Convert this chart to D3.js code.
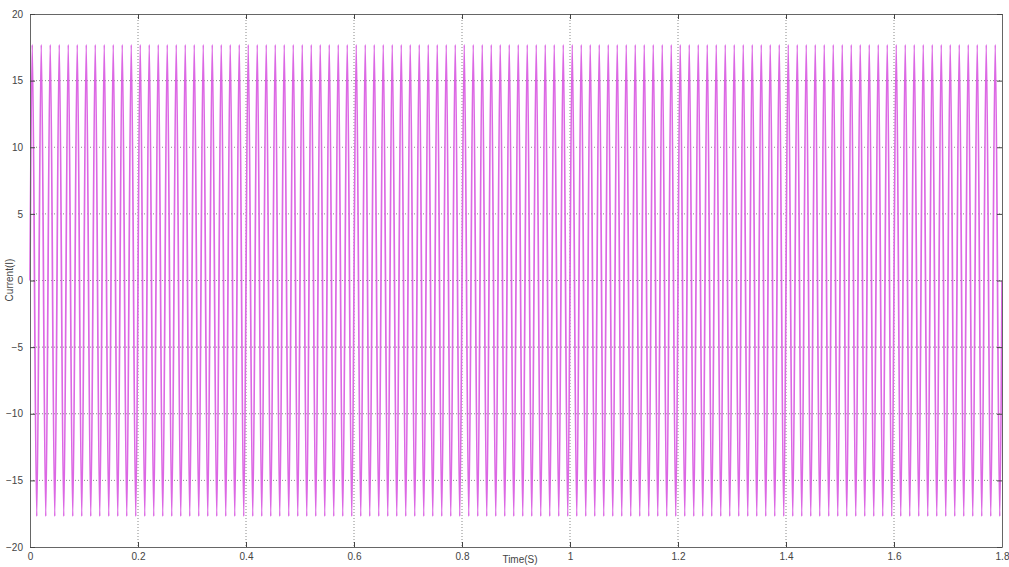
<!DOCTYPE html>
<html><head><meta charset="utf-8">
<script src="https://cdn.jsdelivr.net/npm/d3@7"></script>
<style>body{margin:0;background:#fff}svg{display:block}text{font-family:"Liberation Sans",Arial,sans-serif}</style>
</head><body>
<script>
// tick labels
const xTicks = [0,0.2,0.4,0.6,0.8,1,1.2,1.4,1.6,1.8];
const yTicks = [-20,-15,-10,-5,0,5,10,15,20];
// waveform: 60 Hz current, extrema (peak / trough) values
const halfPeriod = 1/120;
const startValue = 0, endValue = 0;
const extrema = [
17.7,-17.7,17.7,-17.7,17.7,-17.7,17.7,-17.7,17.7,-17.7,17.7,-17.7,17.7,-17.7,17.7,-17.7,17.7,-17.7,17.7,-17.7,17.7,-17.7,17.7,-17.7,
17.7,-17.7,17.7,-17.7,17.7,-17.7,17.7,-17.7,17.7,-17.7,17.7,-17.7,17.7,-17.7,17.7,-17.7,17.7,-17.7,17.7,-17.7,17.7,-17.7,17.7,-17.7,
17.7,-17.7,17.7,-17.7,17.7,-17.7,17.7,-17.7,17.7,-17.7,17.7,-17.7,17.7,-17.7,17.7,-17.7,17.7,-17.7,17.7,-17.7,17.7,-17.7,17.7,-17.7,
17.7,-17.7,17.7,-17.7,17.7,-17.7,17.7,-17.7,17.7,-17.7,17.7,-17.7,17.7,-17.7,17.7,-17.7,17.7,-17.7,17.7,-17.7,17.7,-17.7,17.7,-17.7,
17.7,-17.7,17.7,-17.7,17.7,-17.7,17.7,-17.7,17.7,-17.7,17.7,-17.7,17.7,-17.7,17.7,-17.7,17.7,-17.7,17.7,-17.7,17.7,-17.7,17.7,-17.7,
17.7,-17.7,17.7,-17.7,17.7,-17.7,17.7,-17.7,17.7,-17.7,17.7,-17.7,17.7,-17.7,17.7,-17.7,17.7,-17.7,17.7,-17.7,17.7,-17.7,17.7,-17.7,
17.7,-17.7,17.7,-17.7,17.7,-17.7,17.7,-17.7,17.7,-17.7,17.7,-17.7,17.7,-17.7,17.7,-17.7,17.7,-17.7,17.7,-17.7,17.7,-17.7,17.7,-17.7,
17.7,-17.7,17.7,-17.7,17.7,-17.7,17.7,-17.7,17.7,-17.7,17.7,-17.7,17.7,-17.7,17.7,-17.7,17.7,-17.7,17.7,-17.7,17.7,-17.7,17.7,-17.7,
17.7,-17.7,17.7,-17.7,17.7,-17.7,17.7,-17.7,17.7,-17.7,17.7,-17.7,17.7,-17.7,17.7,-17.7,17.7,-17.7,17.7,-17.7,17.7,-17.7,17.7,-17.7
];
const xLabel = "Time(S)", yLabel = "Current(I)";

const W = 1009, H = 567;
const m = {left:30, right:1002, top:14, bottom:547};
const svg = d3.select("body").append("svg").attr("width",W).attr("height",H);
const x = d3.scaleLinear().domain([0,1.8]).range([m.left,m.right]);
const y = d3.scaleLinear().domain([-20,20]).range([m.bottom,m.top]);

const pts = [[0,startValue]];
extrema.forEach((v,i)=>pts.push([(i+0.5)*halfPeriod, v]));
pts.push([1.8,endValue]);

// grid
const g = svg.append("g");
g.selectAll(".gx").data(xTicks.slice(1,-1)).join("line")
  .attr("x1",d=>x(d)).attr("x2",d=>x(d)).attr("y1",m.top).attr("y2",m.bottom)
  .attr("stroke","#888").attr("stroke-width",1).attr("stroke-dasharray","1,2");
g.selectAll(".gy").data(yTicks.slice(1,-1)).join("line")
  .attr("y1",d=>y(d)).attr("y2",d=>y(d)).attr("x1",m.left).attr("x2",m.right)
  .attr("stroke","#888").attr("stroke-width",1).attr("stroke-dasharray","1,2");

// line
svg.append("path").datum(pts)
  .attr("d", d3.line().x(d=>x(d[0])).y(d=>y(d[1])).curve(d3.curveMonotoneX))
  .attr("fill","none").attr("stroke","#dc68e4").attr("stroke-width",1.7);

// axes
svg.append("g").attr("transform",`translate(0,${m.bottom})`)
  .call(d3.axisBottom(x).tickValues(xTicks).tickFormat(d3.format("~g")).tickSizeInner(-5).tickSizeOuter(0).tickPadding(6))
  .call(s=>{s.select(".domain").attr("stroke","#666");s.selectAll("line").attr("stroke","#444");s.selectAll("text").attr("font-size",10).attr("fill","#444");});
svg.append("g").attr("transform",`translate(0,${m.top})`)
  .call(d3.axisTop(x).tickValues(xTicks).tickFormat("").tickSizeInner(-5).tickSizeOuter(0))
  .call(s=>{s.select(".domain").attr("stroke","#666");s.selectAll("line").attr("stroke","#444");});
svg.append("g").attr("transform",`translate(${m.left},0)`)
  .call(d3.axisLeft(y).tickValues(yTicks).tickFormat(d3.format("~g")).tickSizeInner(-5).tickSizeOuter(0).tickPadding(7))
  .call(s=>{s.select(".domain").attr("stroke","#666");s.selectAll("line").attr("stroke","#444");s.selectAll("text").attr("font-size",10).attr("fill","#444");});
svg.append("g").attr("transform",`translate(${m.right},0)`)
  .call(d3.axisRight(y).tickValues(yTicks).tickFormat("").tickSizeInner(-5).tickSizeOuter(0))
  .call(s=>{s.select(".domain").attr("stroke","#666");s.selectAll("line").attr("stroke","#444");});

svg.append("text").attr("x",520).attr("y",563).attr("text-anchor","middle").attr("font-size",10).attr("fill","#444").text(xLabel);
svg.append("text").attr("transform",`translate(13,280) rotate(-90)`).attr("text-anchor","middle").attr("font-size",10).attr("fill","#444").text(yLabel);
</script>
</body></html>
